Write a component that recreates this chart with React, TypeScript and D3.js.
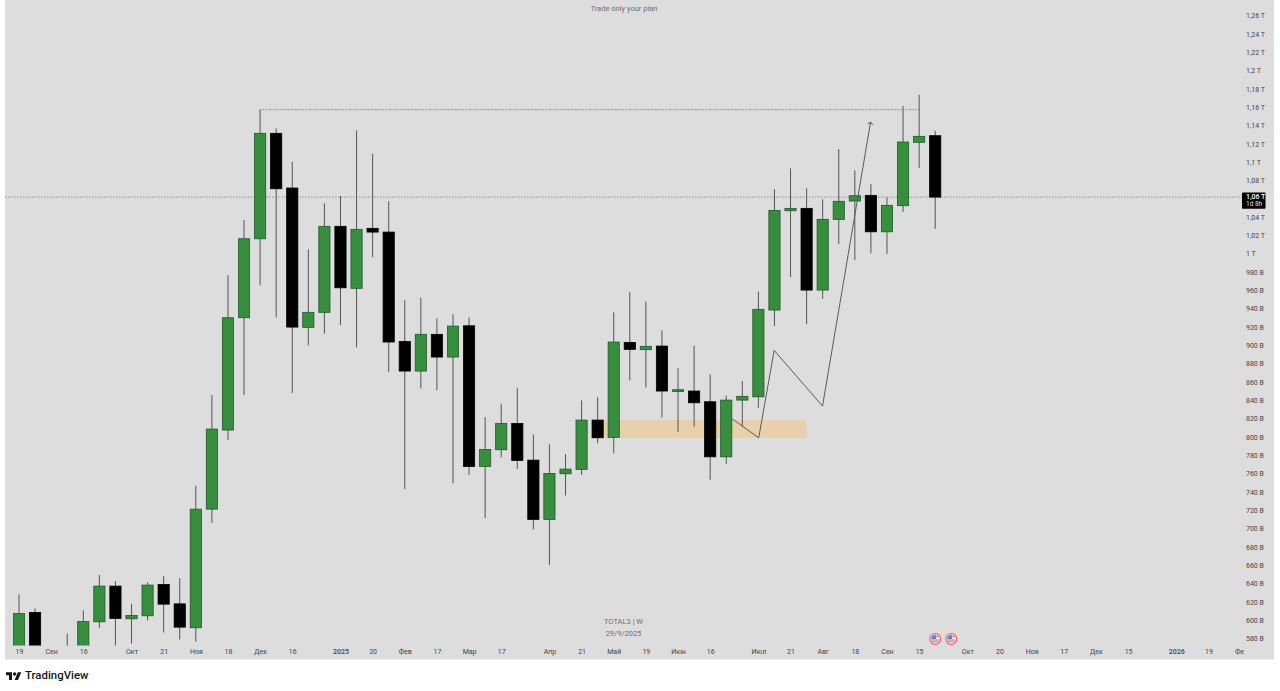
import React, { useEffect, useRef } from 'react';
import * as d3 from 'd3';

// Weekly candles, in billions. Anything under ~565 sits below the visible area
const opens = [565, 608.5, 560, 550, 555, 598.2, 637.2, 601.5, 604.8, 639, 617.8, 591.7, 721.2, 807.5, 930.1, 1016.3, 1131.4, 1071.7, 919.6, 936, 1029.9, 962.2, 1027.7, 1023.6, 904.3, 871.9, 912, 887.2, 921.3, 767.8, 786, 814.8, 774.7, 710, 759.8, 764.6, 818.4, 799.5, 903.2, 895.2, 899.2, 849.7, 850.1, 838.4, 778.3, 840.2, 843.8, 938.5, 1046.9, 1049.5, 960.3, 1037.5, 1057.5, 1063.7, 1023.9, 1052.4, 1121.6, 1128.8];
const highs = [628.1, 612.8, 562, 585.5, 610.7, 649.5, 642.6, 617.9, 641.2, 648.1, 645.9, 746.7, 845.7, 976.7, 1036.7, 1157.2, 1136.8, 1100.1, 1004.8, 1055, 1062.9, 1134.7, 1109.1, 1057.2, 949.4, 951.9, 929.4, 933.8, 930.5, 821.7, 836.2, 853.3, 802.8, 791.9, 781.3, 839.9, 843.2, 936, 958.1, 947.6, 916.3, 875.2, 899.5, 868.3, 845.3, 861, 958.5, 1070.6, 1093.2, 1071.4, 1059.3, 1114.3, 1091, 1076, 1061.5, 1161.2, 1173.5, 1134.2];
const lows = [555, 555, 545, 540, 550, 591.6, 560, 574.6, 599.7, 586.6, 579, 576.4, 706.3, 796.6, 845.7, 965.5, 930.5, 847.9, 899.9, 912.6, 922.1, 897.8, 996.3, 871.1, 743.1, 853, 851.2, 749.3, 758.7, 711.4, 777.7, 765.2, 699.1, 660.4, 736.2, 758.7, 793, 782, 861.7, 854.1, 821.3, 805.3, 811.1, 753.2, 770.7, 811.1, 831.8, 921.1, 974.5, 923.2, 950.8, 1010.5, 993.1, 1000.4, 999.6, 1045.5, 1093.5, 1027.2];
const closes = [607.4, 565, 555, 555, 598.6, 637.2, 601.9, 605.2, 638.3, 617.5, 592.4, 721.2, 808.6, 930.1, 1016.3, 1131.4, 1070.9, 919.9, 936, 1029.9, 962.8, 1026.6, 1023.6, 903.6, 871.9, 912, 887.2, 921, 767.8, 786.4, 814.8, 774.4, 710, 760.2, 764.9, 818.4, 799.1, 903.6, 895.6, 898.9, 850.1, 851.5, 837.3, 778.3, 840.2, 844.3, 939.3, 1047.3, 1049.5, 960.3, 1037.5, 1057.2, 1063.3, 1023.9, 1052.8, 1121.9, 1128.1, 1061.8];

const timeTicks = [0, 2, 4, 7, 9, 11, 13, 15, 17, 20, 22, 24, 26, 28, 30, 33, 35, 37, 39, 41, 43, 46, 48, 50, 52, 54, 56, 59, 61, 63, 65, 67, 69, 72, 74, 75.9];
const timeLabels = ['19', 'Сен', '16', 'Окт', '21', 'Ноя', '18', 'Дек', '16', '2025', '20', 'Фев', '17', 'Мар', '17', 'Апр', '21', 'Май', '19', 'Июн', '16', 'Июл', '21', 'Авг', '18', 'Сен', '15', 'Окт', '20', 'Ноя', '17', 'Дек', '15', '2026', '19', 'Фе'];
const boldLabels = ['2025', '2026'];

const priceTicks = d3.range(580, 1270, 20).filter(v => v !== 1060);
const lastPrice = 1061.8;

// Drawings on top of the candles
const zoneIdx = [36, 49];
const zonePrice = [799, 818.4];
const resistanceIdx = [15, 56];
const resistancePrice = 1157.2;
const pathIdx = [44.37, 46.02, 46.98, 49.99, 52.98];
const pathPrice = [819.8, 799, 894.5, 833.7, 1143.7];
const eventIdx = [57, 58];

const App = () => {
  const svgRef = useRef<SVGSVGElement>(null);

  useEffect(() => {
    d3.select(svgRef.current).selectAll('*').remove();

    const width = 1280;
    const height = 691;
    const plot = { left: 5, right: 1274, top: 0, bottom: 659.5, clip: 645.5 };
    const font = 'Roboto, "Liberation Sans", sans-serif';
    const green = '#388e3f';
    const wickColor = '#555555';

    const svg = d3.select(svgRef.current)
      .attr('width', width)
      .attr('height', height)
      .style('position', 'absolute')
      .style('left', 0)
      .style('top', 0)
      .style('font-family', font);

    const x = d3.scaleLinear().domain([0, 57]).range([19, 935.2]);
    const y = d3.scaleLinear().domain([1260, 580]).range([15.5, 638.5]);

    svg.append('rect')
      .attr('x', plot.left)
      .attr('y', plot.top)
      .attr('width', plot.right - plot.left)
      .attr('height', plot.bottom - plot.top)
      .attr('fill', '#dddddd');

    svg.append('clipPath').attr('id', 'pane')
      .append('rect')
      .attr('x', plot.left)
      .attr('y', 0)
      .attr('width', 1237)
      .attr('height', plot.clip);

    const pane = svg.append('g').attr('clip-path', 'url(#pane)');

    // Order block
    pane.append('rect')
      .attr('x', x(zoneIdx[0]))
      .attr('y', y(zonePrice[1]))
      .attr('width', x(zoneIdx[1]) - x(zoneIdx[0]))
      .attr('height', y(zonePrice[0]) - y(zonePrice[1]))
      .attr('fill', '#e8d0aa');

    // Last price line
    pane.append('line')
      .attr('x1', plot.left)
      .attr('x2', 1242)
      .attr('y1', y(lastPrice))
      .attr('y2', y(lastPrice))
      .attr('stroke', '#8f8f8f')
      .attr('stroke-width', 1)
      .attr('stroke-dasharray', '1.5 1.5');

    // Candles
    const candles = d3.range(opens.length);

    pane.selectAll('.wick')
      .data(candles)
      .enter()
      .append('line')
      .attr('class', 'wick')
      .attr('x1', d => x(d))
      .attr('x2', d => x(d))
      .attr('y1', d => y(highs[d]))
      .attr('y2', d => y(lows[d]))
      .attr('stroke', wickColor)
      .attr('stroke-width', 1);

    pane.selectAll('.body')
      .data(candles)
      .enter()
      .append('rect')
      .attr('class', 'body')
      .attr('x', d => x(d) - 5.6)
      .attr('width', 11.2)
      .attr('y', d => y(Math.max(opens[d], closes[d])))
      .attr('height', d => Math.abs(y(opens[d]) - y(closes[d])))
      .attr('fill', d => (closes[d] >= opens[d] ? green : '#000000'))
      .attr('stroke', d => (closes[d] >= opens[d] ? '#1e5a2a' : '#000000'))
      .attr('stroke-width', 0.8);

    // Resistance line from the December high
    pane.append('line')
      .attr('x1', x(resistanceIdx[0]))
      .attr('x2', x(resistanceIdx[1]))
      .attr('y1', y(resistancePrice))
      .attr('y2', y(resistancePrice))
      .attr('stroke', '#8c8c8c')
      .attr('stroke-width', 1)
      .attr('stroke-dasharray', '1.5 1');

    // Projected path with an arrow head
    const pathLine = d3.line<number>()
      .x(d => x(pathIdx[d]))
      .y(d => y(pathPrice[d]));

    pane.append('path')
      .datum(d3.range(pathIdx.length))
      .attr('fill', 'none')
      .attr('stroke', '#5a5a5a')
      .attr('stroke-width', 1)
      .attr('d', pathLine);

    const tipX = x(pathIdx[4]);
    const tipY = y(pathPrice[4]);
    pane.append('path')
      .attr('fill', 'none')
      .attr('stroke', '#5a5a5a')
      .attr('stroke-width', 1)
      .attr('d', `M${tipX - 3},${tipY + 2}L${tipX},${tipY}L${tipX + 2.2},${tipY + 3}`);

    // Watermark
    const watermark = svg.append('g')
      .attr('text-anchor', 'middle')
      .attr('fill', '#6f6f6f')
      .attr('font-size', 7.5);
    watermark.append('text').attr('x', 624).attr('y', 10.5).text('Trade only your plan');
    watermark.append('text').attr('x', 623.5).attr('y', 623.5).text('TOTAL3 | W');
    watermark.append('text').attr('x', 623.5).attr('y', 636).text('29/9/2025');

    // Event flags
    const flags = svg.selectAll('.flag')
      .data(eventIdx)
      .enter()
      .append('g')
      .attr('class', 'flag')
      .attr('transform', d => `translate(${x(d)},639)`);
    flags.append('circle').attr('r', 5.4).attr('fill', '#f6f0f0').attr('stroke', '#e8606a').attr('stroke-width', 1.2);
    flags.append('path').attr('d', 'M-4,0A4,4 0 0 1 0,-4L1,-4L1,0Z').attr('fill', '#3f8fe0');
    flags.append('path').attr('d', 'M1,-2.6H3.5M-4,1H4M-3.4,2.8H3.4').attr('stroke', '#e8606a').attr('stroke-width', 1);

    // Axes
    const priceFormat = (v: number) =>
      v >= 1000 ? `${String(+(v / 1000).toFixed(2)).replace('.', ',')} T` : `${v} B`;

    const yAxis = svg.append('g')
      .attr('transform', 'translate(1246,0)')
      .call(d3.axisRight(y).tickValues(priceTicks).tickSize(0).tickPadding(0).tickFormat(d => priceFormat(+d)));
    yAxis.select('.domain').remove();
    yAxis.selectAll('text')
      .attr('font-family', font)
      .attr('font-size', 7)
      .attr('fill', '#444444');

    const xAxis = svg.append('g')
      .attr('transform', 'translate(0,649)')
      .call(d3.axisBottom(x).tickValues(timeTicks).tickSize(0).tickPadding(0).tickFormat((d, i) => timeLabels[i]));
    xAxis.select('.domain').remove();
    xAxis.selectAll('text')
      .attr('font-family', font)
      .attr('font-size', 7)
      .attr('font-weight', (d, i) => (boldLabels.includes(timeLabels[i]) ? 500 : 400))
      .attr('fill', '#444444');

    // Price badge
    const badge = svg.append('g').attr('transform', `translate(1242,${y(lastPrice) - 4.7})`);
    badge.append('rect').attr('width', 23.5).attr('height', 16.4).attr('rx', 1).attr('fill', '#000000');
    badge.append('text').attr('x', 4).attr('y', 6.8).attr('font-size', 7).attr('font-weight', 500).attr('fill', '#ffffff').text('1,06 T');
    badge.append('text').attr('x', 4).attr('y', 13.6).attr('font-size', 6.5).attr('fill', '#e0e0e0').text('1d 8h');

    // TradingView logo
    const logo = svg.append('g').attr('transform', 'translate(6,670.6) scale(0.43)').attr('fill', '#131722');
    logo.append('path').attr('d', 'M14 22H7V11H0V4h14v18zM28 22h-8l7.5-18h8L28 22z');
    logo.append('circle').attr('cx', 20).attr('cy', 8).attr('r', 4);
    svg.append('text')
      .attr('x', 25)
      .attr('y', 679)
      .attr('font-size', 11.4)
      .attr('font-weight', 500)
      .attr('fill', '#131722')
      .text('TradingView');
  }, []);

  return <svg ref={svgRef}></svg>;
};

export default App;
